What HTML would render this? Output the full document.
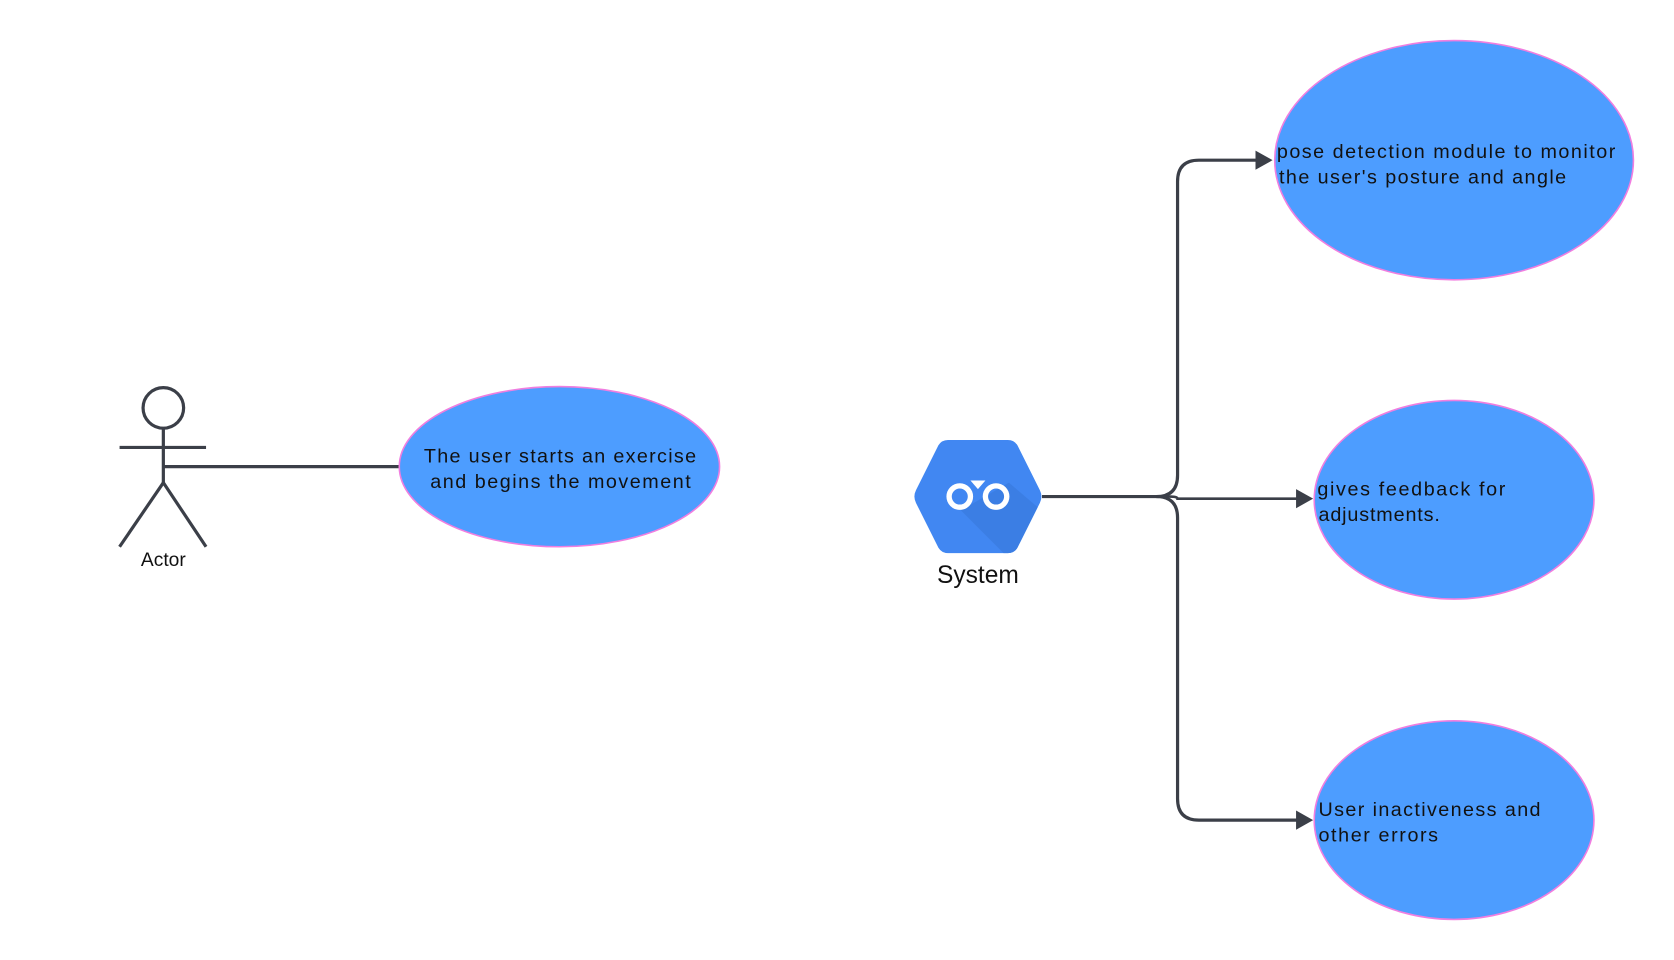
<!DOCTYPE html>
<html><head><meta charset="utf-8"><style>
html,body{margin:0;padding:0;background:#fff;}
svg{display:block;}
text{font-family:"Liberation Sans",sans-serif;fill:#111;}
</style></head><body>
<svg width="1674" height="960" viewBox="0 0 1568 899" preserveAspectRatio="none" xmlns="http://www.w3.org/2000/svg">
<g stroke="#3b3f48" stroke-width="3" fill="none" stroke-linecap="butt">
  <circle cx="153" cy="382" r="19"/>
  <line x1="153" y1="401" x2="153" y2="452"/>
  <line x1="112" y1="419" x2="193" y2="419"/>
  <line x1="153" y1="452" x2="112" y2="512"/>
  <line x1="153" y1="452" x2="193" y2="512"/>
  <line x1="153" y1="437" x2="376" y2="437"/>
</g>
<text x="153" y="530" font-size="18" text-anchor="middle">Actor</text>
<ellipse cx="524" cy="437" rx="150" ry="75" fill="#4d9dff" stroke="#f07ee0" stroke-width="1.5"/>
<text x="397" y="433" font-size="18.5" textLength="255" lengthAdjust="spacing">The user starts an exercise</text>
<text x="403" y="457" font-size="18.5" textLength="244" lengthAdjust="spacing">and begins the movement</text>

<!-- System hexagon -->
<path d="M888,412 L944,412 Q950,412 953,417 L974,459 Q977,465 974,471 L953,513 Q950,518 944,518 L888,518 Q882,518 879,513 L858,471 Q855,465 858,459 L879,417 Q882,412 888,412 Z" fill="#4187f2"/>
<path d="M900,478 L940,518 L944,518 Q950,518 953,513 L972,475 L945,452 Z" fill="#3a7ce0" opacity="0.8"/>
<circle cx="899" cy="465" r="10" fill="none" stroke="#fff" stroke-width="5"/>
<circle cx="933" cy="465" r="10" fill="none" stroke="#fff" stroke-width="5"/>
<path d="M909,450 L923,450 L916,458 Z" fill="#fff"/>
<text x="916" y="546" font-size="23" text-anchor="middle">System</text>

<!-- connectors -->
<g stroke="#3b3f48" stroke-width="3" fill="none">
  <path d="M976,465 L1083,465 Q1103,465 1103,445 L1103,170 Q1103,150 1123,150 L1180,150"/>
  <path d="M1083,465 Q1103,465 1103,485 L1103,748 Q1103,768 1123,768 L1218,768"/>
  <path d="M1083,465 L1096,465 Q1103,465 1103,467 L1218,467" stroke-width="2.5"/>
</g>
<g fill="#3b3f48">
  <path d="M1192,150 L1176,141 L1176,159 Z"/>
  <path d="M1230,467 L1214,458 L1214,476 Z"/>
  <path d="M1230,768 L1214,759 L1214,777 Z"/>
</g>

<ellipse cx="1362" cy="150" rx="168" ry="112" fill="#4d9dff" stroke="#f07ee0" stroke-width="1.5"/>
<text x="1196" y="148" font-size="18.5" textLength="317" lengthAdjust="spacing">pose detection module to monitor</text>
<text x="1198" y="172" font-size="18.5" textLength="269" lengthAdjust="spacing">the user's posture and angle</text>

<ellipse cx="1362" cy="468" rx="131" ry="93" fill="#4d9dff" stroke="#f07ee0" stroke-width="1.5"/>
<text x="1234" y="464" font-size="18.5" textLength="176" lengthAdjust="spacing">gives feedback for</text>
<text x="1235" y="488" font-size="18.5" letter-spacing="0.8">adjustments.</text>

<ellipse cx="1362" cy="768" rx="131" ry="93" fill="#4d9dff" stroke="#f07ee0" stroke-width="1.5"/>
<text x="1235" y="764" font-size="18.5" textLength="208" lengthAdjust="spacing">User inactiveness and</text>
<text x="1235" y="788" font-size="18.5" textLength="112" lengthAdjust="spacing">other errors</text>
</svg>
</body></html>
